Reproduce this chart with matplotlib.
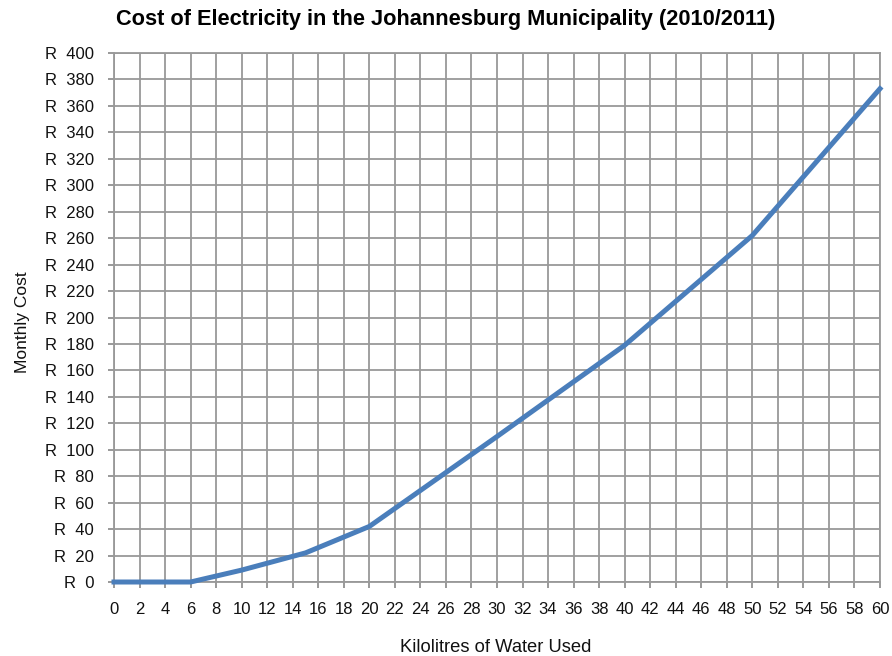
import matplotlib.pyplot as plt

# kilolitres vs monthly cost
kilolitres = [0, 6, 10, 15, 20, 30, 40, 50, 60]
monthly_cost = [0, 0, 9, 22, 42, 110, 179, 262, 373]

x_ticks = list(range(0, 61, 2))
y_ticks = list(range(0, 401, 20))
y_tick_labels = ["R  %d" % v for v in y_ticks]

plt.rcParams['font.family'] = ['Liberation Sans', 'DejaVu Sans']

fig = plt.figure(figsize=(8.92, 6.56), dpi=100)
ax = fig.add_axes([0.1278, 0.1128, 0.8587, 0.8064])

ax.plot(kilolitres, monthly_cost, color='#4a7ebb', linewidth=3.6,
        solid_joinstyle='miter', zorder=3, clip_on=False)

ax.set_xlim(0, 60)
ax.set_ylim(0, 400)
ax.set_xticks(x_ticks)
ax.set_yticks(y_ticks)
ax.set_yticklabels(y_tick_labels)
ax.tick_params(axis='both', labelsize=12, colors='#888888',
               labelcolor='#111111', length=4.3, width=1.2, direction='out')
ax.tick_params(axis='x', pad=10)
ax.tick_params(axis='y', pad=10)

ax.grid(True, color='#999999', linewidth=1.3)
ax.set_axisbelow(True)
for s in ax.spines.values():
    s.set_color('#999999')
    s.set_linewidth(1.3)

fig.text(0.5, 0.971, 'Cost of Electricity in the Johannesburg Municipality (2010/2011)',
         ha='center', va='center', fontsize=15.7, fontweight='bold')
fig.text(0.556, 0.0137, 'Kilolitres of Water Used', ha='center', va='center',
         fontsize=13.2, color='#111111')
fig.text(0.025, 0.509, 'Monthly Cost', rotation=90, ha='center', va='center',
         fontsize=12.5, color='#111111')

fig.savefig('out.png', dpi=100)
